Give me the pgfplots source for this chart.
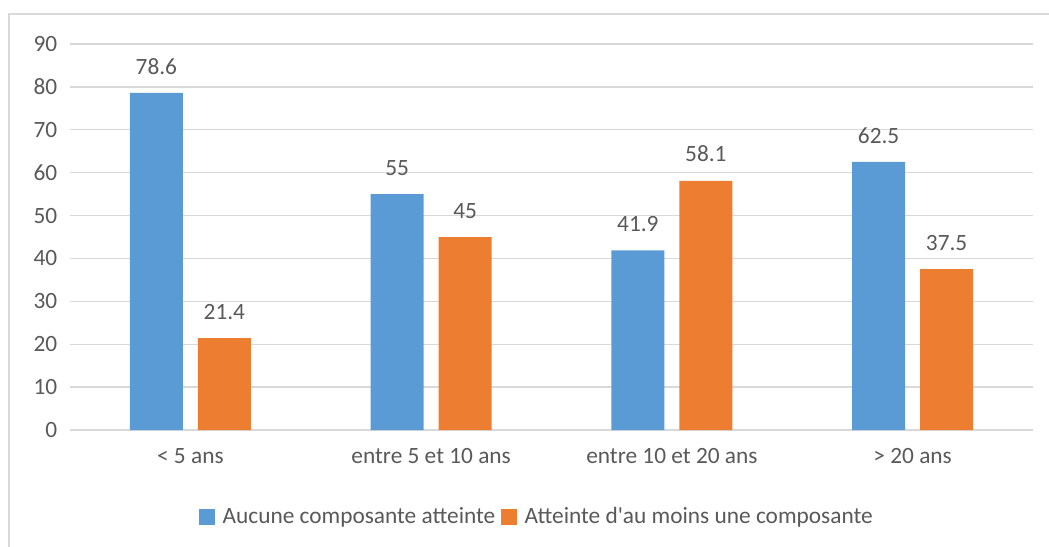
\documentclass[border=0pt]{standalone}
\usepackage{pgfplots}
\pgfplotsset{compat=1.18}
\usepackage{fontspec}
\setmainfont{Carlito}[Ligatures=TeXOff]

\definecolor{cblue}{HTML}{5B9BD5}
\definecolor{corange}{HTML}{ED7D31}
\definecolor{ctext}{HTML}{595959}
\definecolor{cgrid}{HTML}{D9D9D9}

\begin{document}
\begin{tikzpicture}[x=0.75pt,y=0.75pt]
  \useasboundingbox (0,0) rectangle (1049,546);
  % outer chart frame (only top and left edges are visible)
  \draw[cgrid, line width=1.6pt] (9,-10) -- (9,532) -- (1060,532);
  \begin{axis}[
      at={(52.5pt,87pt)}, anchor=south west,
      scale only axis,
      width=722.25pt, height=289.5pt,
      ybar=11.25pt, bar width=39.75pt,
      xmin=-0.5, xmax=3.5,
      ymin=0, ymax=90,
      ytick={0,10,...,90},
      xtick={0,1,2,3},
      xticklabels={{< 5 ans},{entre 5 et 10 ans},{entre 10 et 20 ans},{> 20 ans}},
      axis line style={draw=none},
      major tick length=0pt,
      ymajorgrids,
      grid style={cgrid, line width=1pt},
      /pgf/number format/assume math mode=true,
      tick label style={font=\fontsize{17.5}{21}\selectfont, text=ctext},
      yticklabel style={xshift=-6pt},
      xticklabel style={yshift=-10.5pt},
      nodes near coords,
      every node near coord/.append style={font=\fontsize{17.5}{21}\selectfont, text=ctext, yshift=10.5pt},
      legend columns=-1,
      legend style={draw=none, at={(rel axis cs:0.485,-0.225)}, anchor=center,
        font=\fontsize{17.5}{21}\selectfont, text=ctext,
        /tikz/every odd column/.append style={column sep=4pt},
        /tikz/every even column/.append style={column sep=2pt}},
    ]
    \addplot[fill=cblue, draw=none,
      legend image code/.code={\fill[cblue] (0pt,-6pt) rectangle (12pt,6pt);}]
      coordinates {(0,78.6) (1,55) (2,41.9) (3,62.5)};
    \addplot[fill=corange, draw=none,
      legend image code/.code={\fill[corange] (0pt,-6pt) rectangle (12pt,6pt);}]
      coordinates {(0,21.4) (1,45) (2,58.1) (3,37.5)};
    \legend{Aucune composante atteinte, Atteinte d'au moins une composante}
  \end{axis}
\end{tikzpicture}
\end{document}
